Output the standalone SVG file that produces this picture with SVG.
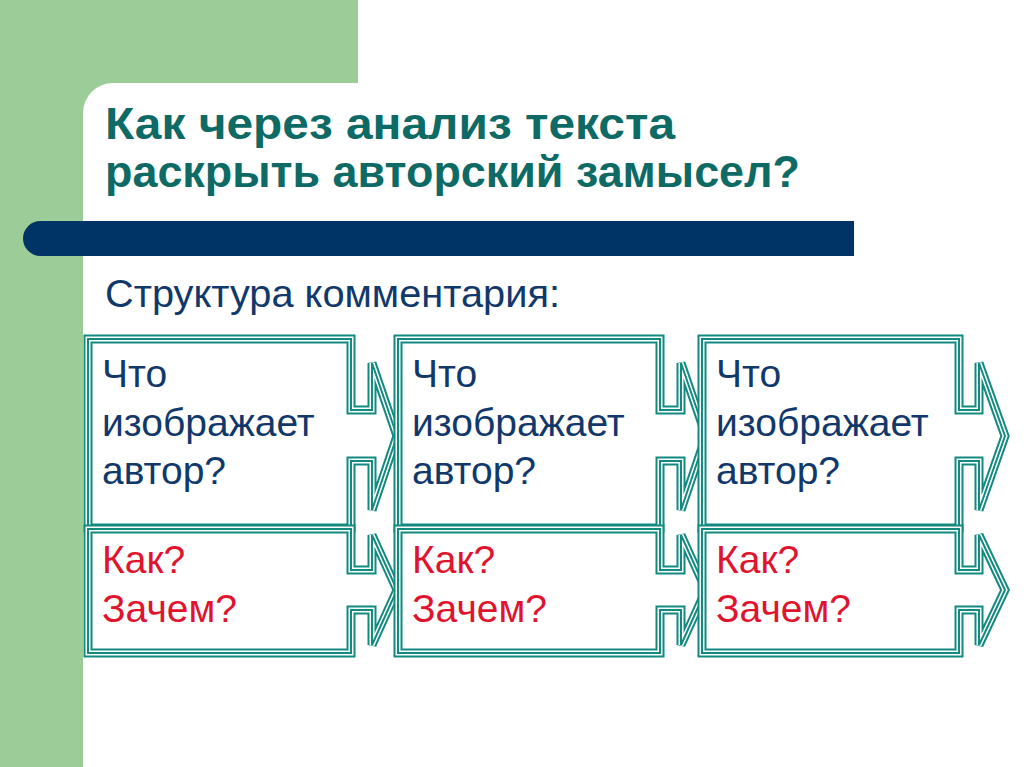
<svg xmlns="http://www.w3.org/2000/svg" width="1024" height="767" viewBox="0 0 1024 767">
<style>
.t{font-family:"Liberation Sans",Arial,sans-serif}
.title{font-size:45px;font-weight:bold;fill:#0e6a65}
.sub{font-size:39px;fill:#11386b}
.q{font-size:39px;fill:#11386b}
.r{font-size:39px;fill:#e0142e}
.s1{fill:#ffffff;stroke:#138a80;stroke-width:9;stroke-linejoin:miter}
.s2{fill:none;stroke:#ffffff;stroke-width:5;stroke-linejoin:miter}
.s3{fill:none;stroke:#138a80;stroke-width:2;stroke-linejoin:miter}
</style>
<defs>
<path id="top1" d="M88,339 H351 V410 H372 V363 L397,436 L372,510 V461 H351 V528 H88 Z"/>
<path id="bot1" d="M88,529 H351 V570 H372 V535 L397,590 L372,645 V610 H351 V653 H88 Z"/>
<path id="top2" d="M398,339 H660 V410 H681 V363 L706,436 L681,510 V461 H660 V528 H398 Z"/>
<path id="bot2" d="M398,529 H660 V570 H681 V535 L706,590 L681,645 V610 H660 V653 H398 Z"/>
<path id="top3" d="M702,339 H959 V410 H979 V363 L1005,436 L979,510 V461 H959 V528 H702 Z"/>
<path id="bot3" d="M702,529 H959 V570 H979 V535 L1005,590 L979,645 V610 H959 V653 H702 Z"/>
</defs>
<rect x="0" y="0" width="1024" height="767" fill="#ffffff"/>
<g id="background">
<rect x="0" y="0" width="358" height="115" fill="#9ccc98"/>
<rect x="0" y="0" width="115" height="767" fill="#9ccc98"/>
<path d="M83,767 V113 A30,30 0 0 1 113,83 H358 V0 H1024 V767 Z" fill="#ffffff"/>
<path d="M40.5,221 H854 V256 H40.5 A17.5,17.5 0 0 1 40.5,221 Z" fill="#003366"/>
</g>
<g id="title">
<text class="t title" x="105" y="139" textLength="570" lengthAdjust="spacingAndGlyphs">Как через анализ текста</text>
<text class="t title" x="105" y="187" textLength="695" lengthAdjust="spacingAndGlyphs">раскрыть авторский замысел?</text>
</g>
<g id="subtitle">
<text class="t sub" x="105" y="307" textLength="455" lengthAdjust="spacingAndGlyphs">Структура комментария:</text>
</g>
<g id="node-what-1">
<use href="#top1" class="s1"/><use href="#top1" class="s2"/><use href="#top1" class="s3"/>
<text class="t q" x="102" y="387">Что</text>
<text class="t q" x="102" y="436">изображает</text>
<text class="t q" x="102" y="484">автор?</text>
</g>
<g id="node-how-1">
<use href="#bot1" class="s1"/><use href="#bot1" class="s2"/><use href="#bot1" class="s3"/>
<text class="t r" x="102" y="573">Как?</text>
<text class="t r" x="102" y="622">Зачем?</text>
</g>
<g id="node-what-2">
<use href="#top2" class="s1"/><use href="#top2" class="s2"/><use href="#top2" class="s3"/>
<text class="t q" x="412" y="387">Что</text>
<text class="t q" x="412" y="436">изображает</text>
<text class="t q" x="412" y="484">автор?</text>
</g>
<g id="node-how-2">
<use href="#bot2" class="s1"/><use href="#bot2" class="s2"/><use href="#bot2" class="s3"/>
<text class="t r" x="412" y="573">Как?</text>
<text class="t r" x="412" y="622">Зачем?</text>
</g>
<g id="node-what-3">
<use href="#top3" class="s1"/><use href="#top3" class="s2"/><use href="#top3" class="s3"/>
<text class="t q" x="716" y="387">Что</text>
<text class="t q" x="716" y="436">изображает</text>
<text class="t q" x="716" y="484">автор?</text>
</g>
<g id="node-how-3">
<use href="#bot3" class="s1"/><use href="#bot3" class="s2"/><use href="#bot3" class="s3"/>
<text class="t r" x="716" y="573">Как?</text>
<text class="t r" x="716" y="622">Зачем?</text>
</g>
<g id="connectors"></g>
</svg>
